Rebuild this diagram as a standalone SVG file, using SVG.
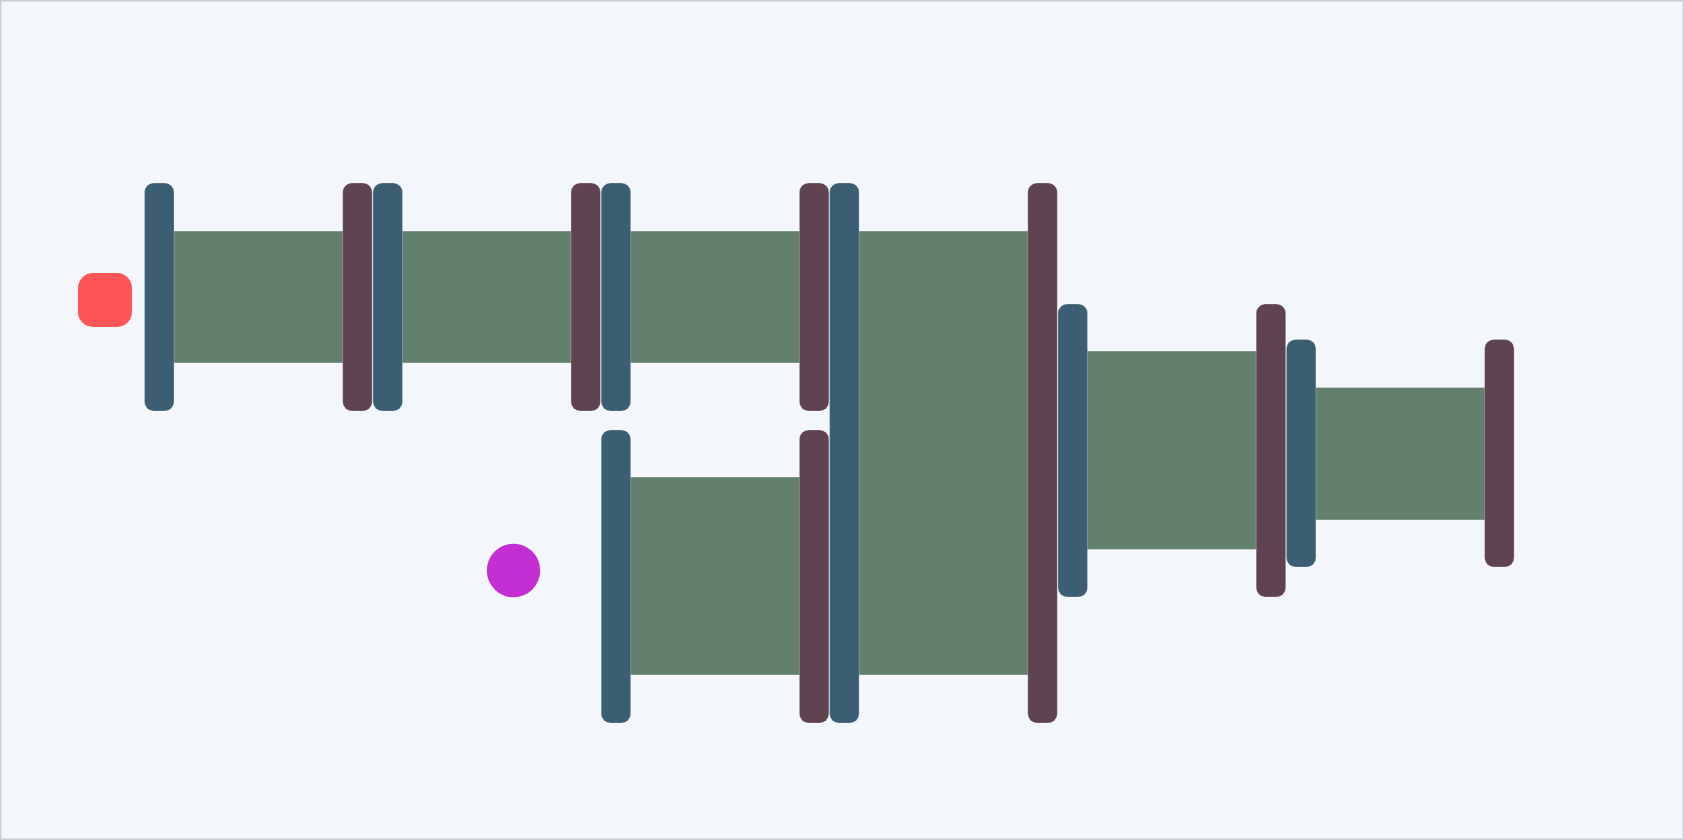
<svg xmlns="http://www.w3.org/2000/svg" width="1684" height="840" viewBox="0 0 1684 840">
  <style>
    .bg { fill: #f3f6fa; stroke: #c9ced4; stroke-width: 1.5; }
    .band { fill: #62806d; stroke: #ffffff; stroke-opacity: 0.35; stroke-width: 1; }
    .nb { fill: #3b5e73; stroke: #ffffff; stroke-opacity: 0.3; stroke-width: 0.8; }
    .nm { fill: #5f4351; stroke: #ffffff; stroke-opacity: 0.3; stroke-width: 0.8; }
  </style>
  <rect class="bg" x="0.75" y="0.75" width="1682.5" height="838.5"/>

  <g id="connectors">
    <rect class="band" x="159" y="231" width="198" height="132"/>
    <rect class="band" x="387" y="231" width="199" height="132"/>
    <rect class="band" x="616" y="231" width="198" height="132"/>
    <rect class="band" x="616" y="477" width="198" height="198"/>
    <rect class="band" x="844" y="231" width="198" height="444"/>
    <rect class="band" x="1072" y="351" width="199" height="198.5"/>
    <rect class="band" x="1301" y="387.5" width="198" height="132.5"/>
  </g>

  <g id="start"><rect x="78" y="273" width="54" height="54" rx="15" fill="#fe5656"/></g>
  <g id="end"><circle cx="513.5" cy="570.5" r="26.7" fill="#c32fd3"/></g>

  <g id="b0"><rect class="nb" x="144.5" y="183" width="29.5" height="228" rx="9"/></g>
  <g id="m1"><rect class="nm" x="342.7" y="183" width="29.5" height="228" rx="9"/></g>
  <g id="b1"><rect class="nb" x="373" y="183" width="29.5" height="228" rx="9"/></g>
  <g id="m2"><rect class="nm" x="571" y="183" width="29.5" height="228" rx="9"/></g>
  <g id="b2"><rect class="nb" x="601.2" y="183" width="29.5" height="228" rx="9"/></g>
  <g id="b2low"><rect class="nb" x="601.2" y="430" width="29.5" height="293" rx="9"/></g>
  <g id="m3"><rect class="nm" x="799.4" y="183" width="29.5" height="228" rx="9"/></g>
  <g id="m3low"><rect class="nm" x="799.4" y="430" width="29.5" height="293" rx="9"/></g>
  <g id="b3"><rect class="nb" x="829.6" y="183" width="29.5" height="540" rx="9"/></g>
  <g id="m4"><rect class="nm" x="1027.8" y="183" width="29.5" height="540" rx="9"/></g>
  <g id="b4"><rect class="nb" x="1058" y="304" width="29.5" height="293" rx="9"/></g>
  <g id="m5"><rect class="nm" x="1256.2" y="304" width="29.5" height="293" rx="9"/></g>
  <g id="b5"><rect class="nb" x="1286.4" y="339.5" width="29.5" height="227.5" rx="9"/></g>
  <g id="m6"><rect class="nm" x="1484.6" y="339.5" width="29.5" height="227.5" rx="9"/></g>
</svg>
